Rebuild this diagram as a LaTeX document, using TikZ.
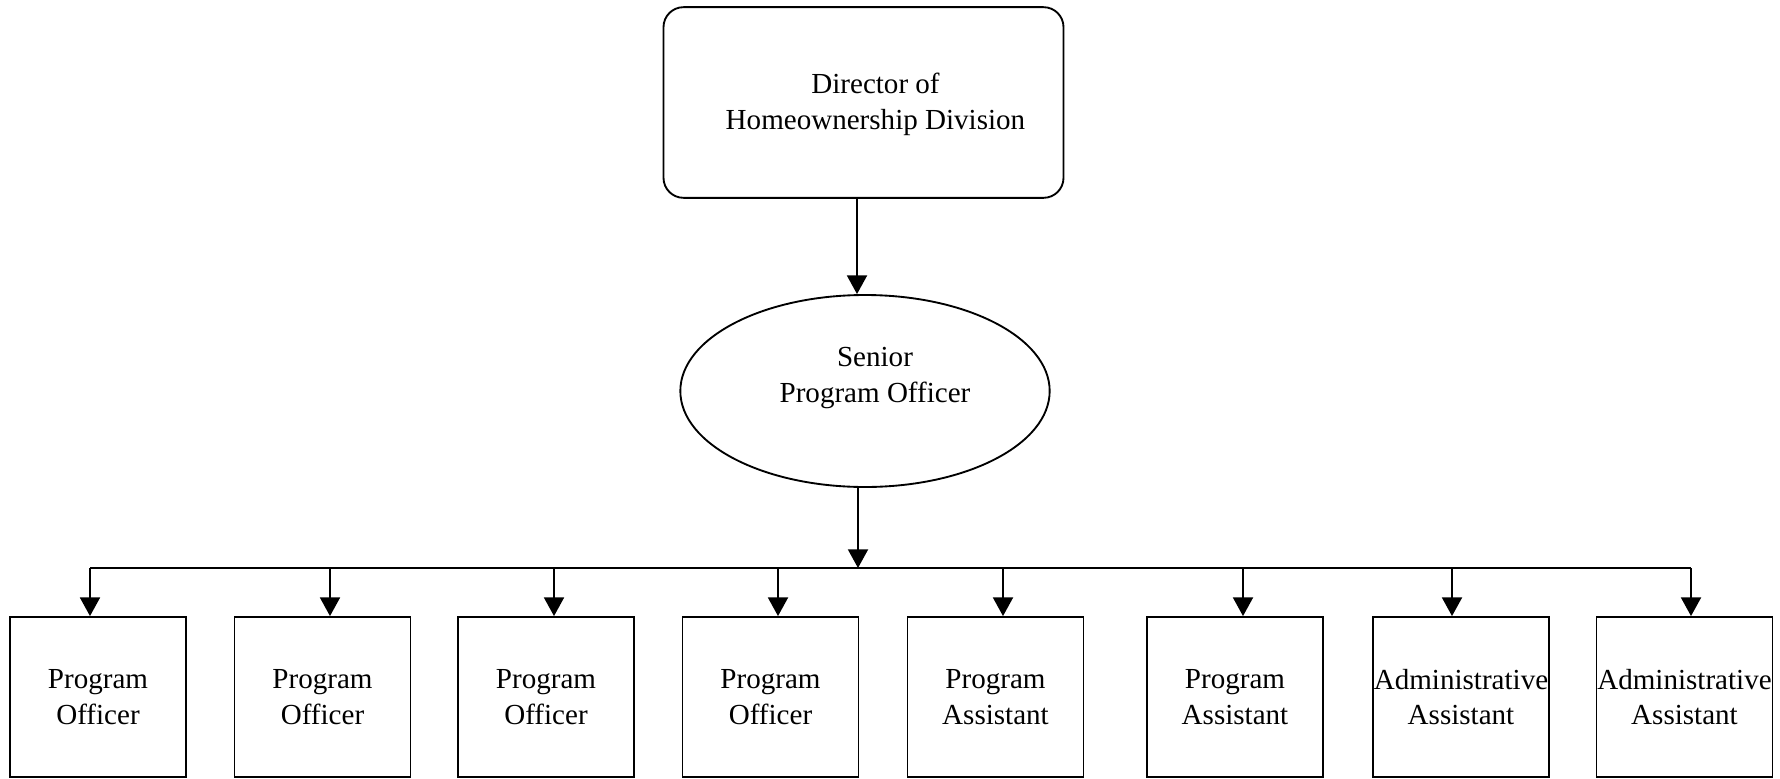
\documentclass[tikz,border=0pt]{standalone}
\usepackage{fontspec}
\setmainfont{Liberation Serif}
\usetikzlibrary{arrows.meta,shapes.geometric}

\begin{document}
\begin{tikzpicture}[x=0.75pt,y=-0.75pt,
  every node/.style={font=\fontsize{21.8}{26.8}\selectfont},
  line/.style={line width=1.4pt,black},
  arr/.style={line, -{Triangle[width=15pt,length=14pt]}},
  staffbox/.style={draw,line width=1.4pt,rectangle,minimum width=132pt,
    minimum height=120pt,inner sep=0pt,align=center},
  headbox/.style={draw,line width=1.4pt,rectangle,rounded corners=15pt,
    minimum width=300pt,minimum height=143pt,inner sep=0pt},
  seniorshape/.style={draw,line width=1.4pt,ellipse,minimum width=277pt,
    minimum height=144pt,inner sep=0pt}
]
\useasboundingbox (0,0) rectangle (1780,778);

% top of the chart
\node[headbox,label={[xshift=9pt,yshift=-1.5pt,align=center]center:Director of\\Homeownership Division}]
  (dir) at (863.5,102.5) {};
\node[seniorshape,label={[xshift=7.5pt,yshift=10pt,align=center]center:Senior\\Program Officer}]
  (sen) at (865,391) {};

% staff row
\node[staffbox] (b1) at (98,697)    {Program\\Officer};
\node[staffbox] (b2) at (322.5,697) {Program\\Officer};
\node[staffbox] (b3) at (546,697)   {Program\\Officer};
\node[staffbox] (b4) at (770.5,697) {Program\\Officer};
\node[staffbox] (b5) at (995.5,697) {Program\\Assistant};
\node[staffbox] (b6) at (1235,697)  {Program\\Assistant};
\node[staffbox] (b7) at (1461,697)  {Administrative\\Assistant};
\node[staffbox] (b8) at (1684.5,697){Administrative\\Assistant};

% connectors
\coordinate (up) at (857,0);
\coordinate (hub) at (858,568);
\draw[arr] (dir.south -| up) -- (sen.north -| up);
\draw[arr] (sen.south -| hub) -- (hub);

\coordinate (d1) at (90,568);
\coordinate (d2) at (330,568);
\coordinate (d3) at (554,568);
\coordinate (d4) at (778,568);
\coordinate (d5) at (1003,568);
\coordinate (d6) at (1243,568);
\coordinate (d7) at (1452,568);
\coordinate (d8) at (1691,568);
\draw[line] (d1) -- (d8);
\foreach \i in {1,...,8}
  \draw[arr] (d\i) -- (d\i |- b\i.north);
\end{tikzpicture}
\end{document}
